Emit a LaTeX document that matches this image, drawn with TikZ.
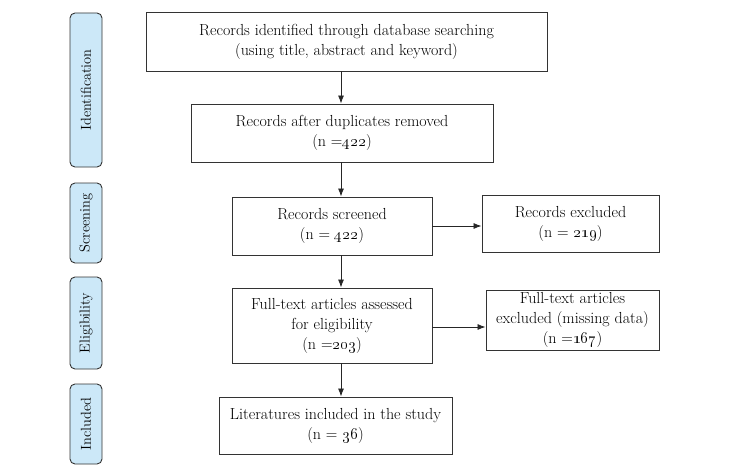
\documentclass[tikz,border=0pt]{standalone}
\usepackage{fix-cm}
\usetikzlibrary{arrows.meta}
\newcommand{\osn}[1]{\oldstylenums{#1}}
\definecolor{phasefill}{RGB}{204,232,248}
\begin{document}
\begin{tikzpicture}[x=1pt,y=-1pt,
  box/.style={draw=black!80,line width=0.9pt,rectangle,align=center,inner sep=2pt,
    font=\fontsize{16}{20}\selectfont},
  phase/.style={draw=black!80,line width=0.9pt,rounded corners=5pt,fill=phasefill,
    rotate=90,minimum height=32pt,inner sep=1pt,font=\fontsize{14.4}{17}\selectfont},
  arr/.style={draw=black!85,line width=0.8pt,-{Latex[length=8pt,width=6pt]}}]
\useasboundingbox (0,0) rectangle (733,476);
\node[phase,minimum width=154pt] (p1) at (86,90) {Identification};
\node[phase,minimum width=80pt] (p2) at (86,223) {Screening};
\node[phase,minimum width=92pt] (p3) at (86,323) {Eligibility};
\node[phase,minimum width=80pt] (p4) at (86,424) {Included};

\node[box,minimum width=401pt,minimum height=59pt] (b1) at (346.5,41.5)
  {Records identified through database searching\\(using title, abstract and keyword)};
\node[box,minimum width=302pt,minimum height=58pt] (b2) at (342,133)
  {Records after duplicates removed\\(n =\osn{422})};
\node[box,minimum width=200pt,minimum height=58pt] (b3) at (332,226)
  {Records screened\\(n = \osn{422})};
\node[box,minimum width=200pt,minimum height=75pt] (b4) at (332,325.5)
  {Full-text articles assessed\\for eligibility\\(n =\osn{203})};
\node[box,minimum width=233pt,minimum height=57pt] (b5) at (335.5,425.5)
  {Literatures included in the study\\(n = \osn{36})};
\node[box,minimum width=177pt,minimum height=57pt] (e1) at (570.5,223.5)
  {Records excluded\\(n = \osn{219})};
\node[box,minimum width=173pt,minimum height=60pt] (e2) at (572.5,320)
  {Full-text articles\\excluded (missing data)\\(n =\osn{167})};

\coordinate (ax) at (341,0);
\draw[arr] (b1.south -| ax) -- (b2.north -| ax);
\draw[arr] (b2.south -| ax) -- (b3.north -| ax);
\draw[arr] (b3.south -| ax) -- (b4.north -| ax);
\draw[arr] (b4.south -| ax) -- (b5.north -| ax);
\draw[arr] (b3.east) -- (b3.east -| e1.west);
\coordinate (hy) at (0,327);
\draw[arr] (b4.east |- hy) -- (e2.west |- hy);
\end{tikzpicture}
\end{document}
